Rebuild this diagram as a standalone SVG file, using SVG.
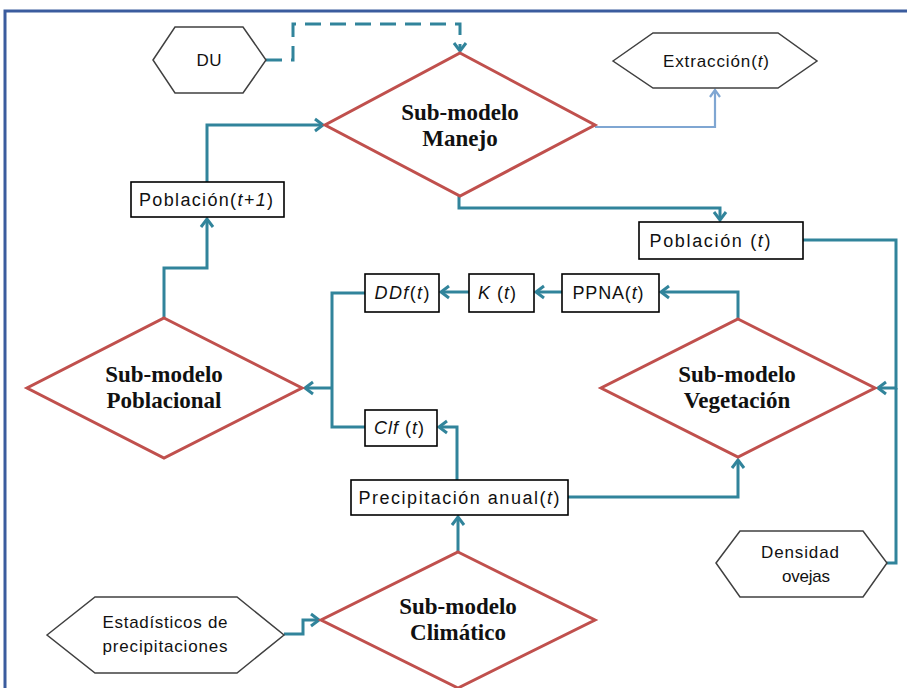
<svg xmlns="http://www.w3.org/2000/svg" width="907" height="688" viewBox="0 0 907 688">
  <style>
    .frame { fill: none; stroke: #3B5C9E; stroke-width: 3; }
    .dia { fill: #fff; stroke: #C0504D; stroke-width: 3; stroke-linejoin: miter; }
    .hex { fill: #fff; stroke: #404040; stroke-width: 1.5; }
    .box { fill: #fff; stroke: #000; stroke-width: 1.6; }
    .con { fill: none; stroke: #31849B; stroke-width: 3; }
    .dash { stroke-dasharray: 16 9; }
    .light { fill: none; stroke: #7FA6D2; stroke-width: 2.2; }
    .ttl { font-family: "Liberation Serif", "Times New Roman", serif; font-weight: bold; font-size: 23px; fill: #111; text-anchor: middle; }
    .lbl { font-family: "Liberation Sans", Arial, sans-serif; font-size: 17px; fill: #111; text-anchor: middle; }
    .bl { font-size: 18px; }
    .it { font-style: italic; }
  </style>
  <defs>
    <marker id="arr" markerUnits="userSpaceOnUse" markerWidth="16" markerHeight="16" viewBox="0 0 16 16" refX="12" refY="8" orient="auto">
      <path d="M4,2 L12,8 L4,14" fill="none" stroke="#31849B" stroke-width="3"/>
    </marker>
    <marker id="arrL" markerUnits="userSpaceOnUse" markerWidth="14" markerHeight="14" viewBox="0 0 14 14" refX="11" refY="7" orient="auto">
      <path d="M4,2 L11,7 L4,12" fill="none" stroke="#7FA6D2" stroke-width="2.2"/>
    </marker>
  </defs>

  <rect width="907" height="688" fill="#fff"/>
  <rect class="frame" x="5" y="11" width="920" height="700"/>

  <!-- connectors -->
  <g id="connectors">
    <path class="con dash" d="M266,60 H293 V24 H460 V51" marker-end="url(#arr)"/>
    <path class="light" d="M595,127 H715 V90" marker-end="url(#arrL)"/>
    <path class="con" d="M459,196 V208 H720 V220" marker-end="url(#arr)"/>
    <path class="con" d="M803,240 H896 V388 H878" marker-end="url(#arr)"/>
    <path class="con" d="M887,563 H896 V388"/>
    <path class="con" d="M738,319 V292 H661" marker-end="url(#arr)"/>
    <path class="con" d="M562,292 H536" marker-end="url(#arr)"/>
    <path class="con" d="M469,292 H441" marker-end="url(#arr)"/>
    <path class="con" d="M365,293 H332 V427 H365"/>
    <path class="con" d="M332,388 H305" marker-end="url(#arr)"/>
    <path class="con" d="M457,480 V427 H439" marker-end="url(#arr)"/>
    <path class="con" d="M568,497 H738 V460" marker-end="url(#arr)"/>
    <path class="con" d="M458,552 V517" marker-end="url(#arr)"/>
    <path class="con" d="M284,634 H303 V620 H319" marker-end="url(#arr)"/>
    <path class="con" d="M164,318 V268 H207 V219" marker-end="url(#arr)"/>
    <path class="con" d="M207,182 V125 H323" marker-end="url(#arr)"/>
  </g>

  <!-- sub-models -->
  <g id="manejo">
    <polygon class="dia" points="460,53 595,125 460,196 325,125"/>
    <text class="ttl" x="460" y="120">Sub-modelo</text>
    <text class="ttl" x="460" y="146">Manejo</text>
  </g>
  <g id="poblacional">
    <polygon class="dia" points="164,318 302,388 164,458 27,388"/>
    <text class="ttl" x="164" y="382">Sub-modelo</text>
    <text class="ttl" x="164" y="408">Poblacional</text>
  </g>
  <g id="vegetacion">
    <polygon class="dia" points="738,319 875,388 738,457 601,388"/>
    <text class="ttl" x="737" y="382">Sub-modelo</text>
    <text class="ttl" x="737" y="408">Vegetación</text>
  </g>
  <g id="climatico">
    <polygon class="dia" points="458,552 595,620 458,688 321,620"/>
    <text class="ttl" x="458" y="614">Sub-modelo</text>
    <text class="ttl" x="458" y="640">Climático</text>
  </g>

  <!-- inputs / outputs -->
  <g id="du">
    <polygon class="hex" points="153,60 175,27 243,27 266,60 243,93 175,93"/>
    <text class="lbl" x="209" y="66" textLength="25">DU</text>
  </g>
  <g id="extraccion">
    <polygon class="hex" points="613,61 653,33 778,33 817,61 778,88 653,88"/>
    <text class="lbl" x="716" y="67" textLength="106">Extracción(<tspan class="it">t</tspan>)</text>
  </g>
  <g id="densidad">
    <polygon class="hex" points="716,563 740,531 863,531 887,563 863,597 740,597"/>
    <text class="lbl" x="800" y="558" textLength="78">Densidad</text>
    <text class="lbl" x="806" y="582" textLength="48">ovejas</text>
  </g>
  <g id="estadisticos">
    <polygon class="hex" points="47,635 95,597 237,597 284,635 237,673 95,673"/>
    <text class="lbl" x="165" y="628" textLength="125">Estadísticos de</text>
    <text class="lbl" x="165" y="652" textLength="125">precipitaciones</text>
  </g>

  <!-- state variables -->
  <g id="poblacion-t1">
    <rect class="box" x="131" y="182" width="153" height="35"/>
    <text class="lbl bl" x="206" y="206" textLength="134">Población(<tspan class="it">t+1</tspan>)</text>
  </g>
  <g id="poblacion-t">
    <rect class="box" x="639" y="222" width="164" height="37"/>
    <text class="lbl bl" x="710" y="247" textLength="121">Población (<tspan class="it">t</tspan>)</text>
  </g>
  <g id="ppna">
    <rect class="box" x="562" y="274" width="97" height="38"/>
    <text class="lbl bl" x="608" y="299" textLength="71">PPNA(<tspan class="it">t</tspan>)</text>
  </g>
  <g id="k">
    <rect class="box" x="469" y="274" width="65" height="38"/>
    <text class="lbl bl" x="497" y="299" textLength="38"><tspan class="it">K</tspan> (<tspan class="it">t</tspan>)</text>
  </g>
  <g id="ddf">
    <rect class="box" x="365" y="274" width="74" height="38"/>
    <text class="lbl bl" x="402" y="299" textLength="55"><tspan class="it">DDf</tspan>(<tspan class="it">t</tspan>)</text>
  </g>
  <g id="clf">
    <rect class="box" x="365" y="410" width="72" height="36"/>
    <text class="lbl bl" x="399" y="434" textLength="50"><tspan class="it">Clf</tspan> (<tspan class="it">t</tspan>)</text>
  </g>
  <g id="precipitacion">
    <rect class="box" x="351" y="480" width="217" height="35"/>
    <text class="lbl bl" x="459" y="504" textLength="201">Precipitación anual(<tspan class="it">t</tspan>)</text>
  </g>
</svg>
